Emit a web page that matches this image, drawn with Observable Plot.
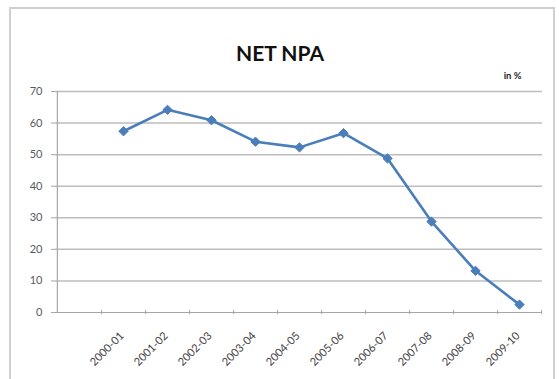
<!DOCTYPE html>
<html>
<head>
<meta charset="utf-8">
<script src="https://cdn.jsdelivr.net/npm/d3@7"></script>
<script src="https://cdn.jsdelivr.net/npm/@observablehq/plot@0.6"></script>
<style>
  html, body { margin: 0; padding: 0; background: #fff; }
  #wrap { position: relative; width: 559px; height: 379px; overflow: hidden; }
  #border { position: absolute; left: 9px; top: 7px; width: 546px; height: 380px; border: 2px solid #cfcfcf; box-sizing: border-box; }
  #chart { position: absolute; left: 0; top: 0; }
</style>
</head>
<body>
<div id="wrap"><div id="border"></div><div id="chart"></div></div>
<script>
const title = "NET NPA";
const unitLabel = "in %";
const categories = ["", "2000-01", "2001-02", "2002-03", "2003-04", "2004-05", "2005-06", "2006-07", "2007-08", "2008-09", "2009-10"];
const years = ["2000-01", "2001-02", "2002-03", "2003-04", "2004-05", "2005-06", "2006-07", "2007-08", "2008-09", "2009-10"];
const values = [57.4, 64.2, 60.9, 54.1, 52.3, 56.8, 48.8, 28.8, 13.2, 2.5];
const yTicks = [0, 10, 20, 30, 40, 50, 60, 70];

const data = years.map((c, i) => ({ cat: c, v: values[i] }));

const W = 559, H = 379;
const mL = 55, mR = 17, mT = 91, mB = 67;
const step = (W - mL - mR) / categories.length;
const font = "Lato, 'Open Sans', sans-serif";
const blue = "#4a7ebb";

const chart = Plot.plot({
  width: W,
  height: H,
  marginLeft: mL,
  marginRight: mR,
  marginTop: mT,
  marginBottom: mB,
  style: { fontFamily: font, background: "transparent", overflow: "visible" },
  x: { type: "point", domain: categories, padding: 0.5, axis: null },
  y: { domain: [0, 70], ticks: yTicks, axis: null },
  marks: [
    Plot.ruleY(yTicks.filter(d => d > 0), { stroke: "#bdbdbd", strokeWidth: 1.5 }),
    Plot.axisY({ ticks: yTicks, tickSize: 4, tickPadding: 9, fontSize: 11, color: "#595959", stroke: "#a6a6a6", label: null }),
    Plot.ruleX([categories[0]], { stroke: "#a6a6a6", strokeWidth: 1.2, dx: -step / 2 }),
    Plot.ruleY([0], { stroke: "#a6a6a6", strokeWidth: 1.2 }),
    Plot.ruleX(categories, { x: d => d, y1: -0.7, y2: 0.7, stroke: "#a6a6a6", strokeWidth: 1, dx: step / 2 }),
    Plot.text(years, { x: d => d, frameAnchor: "bottom", rotate: -45, textAnchor: "end", dx: 1, dy: 24, fontSize: 11, fill: "#404040" }),
    Plot.line(data, { x: "cat", y: "v", stroke: blue, strokeWidth: 2.6 }),
    Plot.dot(data, { x: "cat", y: "v", symbol: "diamond2", r: 4.2, fill: blue, stroke: blue, strokeWidth: 1 }),
    Plot.text([title], { frameAnchor: "top", dx: 279.5 - (mL + (W - mL - mR) / 2), dy: -45, fontSize: 21, fontWeight: "bold", fill: "#111" }),
    Plot.text([unitLabel], { frameAnchor: "top-right", textAnchor: "end", dx: -21, dy: -19, fontSize: 9.5, fontWeight: "bold", fill: "#222" })
  ]
});
document.getElementById("chart").appendChild(chart);
</script>
</body>
</html>
